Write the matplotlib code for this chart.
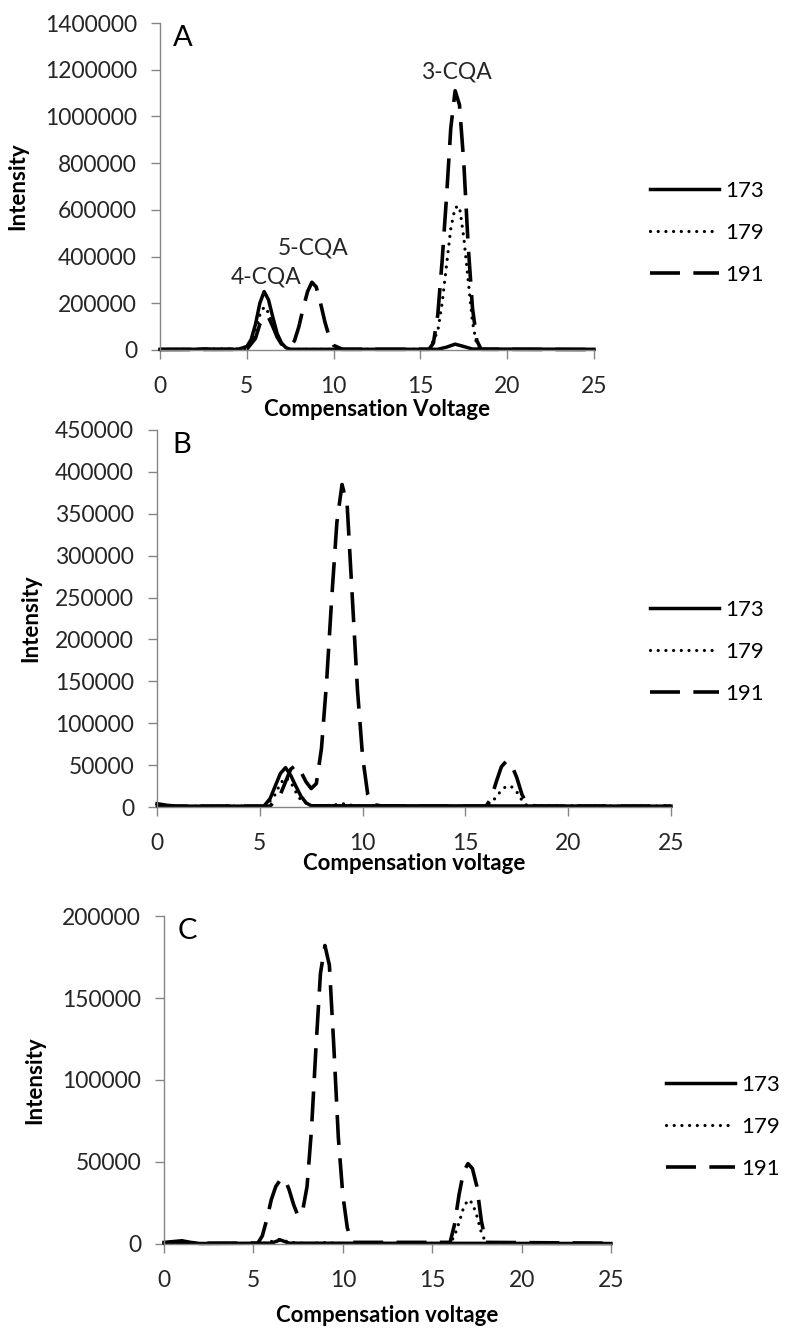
import matplotlib
matplotlib.use("Agg")
import matplotlib.pyplot as plt

plt.rcParams['font.family'] = ['Lato', 'DejaVu Sans']

W, H = 785, 1331

# ---- panel A data (Compensation Voltage vs Intensity) ----
a173_x = [0, 2, 2.5, 3, 4.5, 5, 5.25, 5.5, 5.75, 6, 6.25, 6.5, 6.75, 7, 7.25, 7.5, 16, 16.5, 17, 17.5, 18, 25]
a173_y = [3000, 3000, 5000, 3000, 3000, 15000, 45000, 110000, 200000, 250000, 215000, 140000, 70000, 30000,
          10000, 3000, 3000, 12000, 25000, 15000, 4000, 3000]

a179_x = [0, 5, 5.5, 5.75, 6, 6.25, 6.5, 7, 7.5, 15.5, 16, 16.25, 16.5, 16.75, 17, 17.25, 17.5, 17.75,
          18, 18.25, 18.5, 25]
a179_y = [2000, 5000, 70000, 150000, 185000, 160000, 100000, 25000, 3000, 3000, 80000, 200000, 360000,
          520000, 610000, 615000, 480000, 300000, 120000, 20000, 3000, 2000]

a191_x = [0, 5, 5.5, 5.75, 6, 6.25, 6.5, 6.75, 7, 7.5, 7.75, 8, 8.25, 8.5, 8.75, 9, 9.25, 9.5, 9.75, 10,
          10.5, 15.5, 15.75, 16, 16.25, 16.5, 16.75, 17, 17.25, 17.5, 17.75, 18, 18.25, 18.5, 25]
a191_y = [2000, 3000, 50000, 110000, 145000, 140000, 100000, 55000, 25000, 15000, 40000, 100000, 180000,
          250000, 290000, 270000, 200000, 120000, 55000, 20000, 3000, 3000, 30000, 150000, 380000, 650000,
          950000, 1110000, 1050000, 800000, 450000, 180000, 40000, 3000, 2000]

# ---- panel B data ----
b173_x = [0, 0.5, 1, 5.2, 5.5, 5.75, 6, 6.25, 6.5, 6.75, 7, 7.25, 7.5, 25]
b173_y = [4000, 2000, 1000, 1000, 10000, 25000, 40000, 47000, 38000, 25000, 13000, 5000, 1500, 1000]

b179_x = [0, 5.3, 5.75, 6, 6.25, 6.5, 6.75, 7, 7.5, 8.5, 9, 9.5, 10, 16, 16.25, 16.5, 16.75, 17, 17.25,
          17.5, 17.75, 18, 25]
b179_y = [1000, 1000, 15000, 28000, 35000, 30000, 18000, 8000, 1500, 2000, 4000, 2000, 1000, 1000, 5000,
          12000, 20000, 25000, 24000, 18000, 8000, 1500, 1000]

b191_x = [0, 5.5, 6, 6.25, 6.5, 6.75, 7, 7.25, 7.5, 7.75, 8, 8.25, 8.5, 8.75, 9, 9.25, 9.5, 9.75, 10,
          10.25, 10.5, 11, 16, 16.25, 16.5, 16.75, 17, 17.25, 17.5, 17.75, 18, 18.5, 25]
b191_y = [1000, 1000, 15000, 30000, 45000, 50000, 42000, 30000, 22000, 28000, 70000, 150000, 250000,
          340000, 385000, 360000, 250000, 140000, 60000, 15000, 3000, 1000, 1000, 10000, 30000, 48000,
          55000, 50000, 35000, 15000, 3000, 1000, 1000]

# ---- panel C data ----
c173_x = [0, 0.5, 1, 1.5, 2, 6, 6.5, 7, 25]
c173_y = [1000, 1500, 2000, 1000, 300, 500, 2500, 500, 300]

c179_x = [0, 5.5, 6, 6.5, 7, 8, 9, 10, 16, 16.25, 16.5, 16.75, 17, 17.25, 17.5, 17.75, 18, 18.5, 25]
c179_y = [300, 300, 1500, 3000, 1000, 300, 800, 300, 300, 5000, 13000, 22000, 27000, 25000, 17000, 7000,
          800, 300, 300]

c191_x = [0, 5.25, 5.5, 5.75, 6, 6.25, 6.5, 6.75, 7, 7.25, 7.5, 7.75, 8, 8.25, 8.5, 8.75, 9, 9.25, 9.5,
          9.75, 10, 10.25, 10.5, 16, 16.25, 16.5, 16.75, 17, 17.25, 17.5, 17.75, 18, 25]
c191_y = [500, 500, 5000, 15000, 27000, 35000, 39000, 40000, 33000, 24000, 17000, 20000, 35000, 70000,
          120000, 165000, 182000, 170000, 120000, 65000, 30000, 10000, 1000, 1000, 12000, 30000, 44000,
          49000, 46000, 35000, 14000, 1000, 500]

series_names = ['173', '179', '191']
x_ticks = [0, 5, 10, 15, 20, 25]

# styles for the three ions
styles = {
    '173': dict(linestyle='-', lw=2.5),
    '179': dict(linestyle=(0, (0.01, 2.4)), dash_capstyle='round', lw=2.3),
    '191': dict(linestyle=(0, (8.3, 3.7)), dash_capstyle='butt', lw=2.6),
}

TICK_COLOR = '#262626'
AXIS_COLOR = '#868686'


def px_box(left, top, right, bottom):
    return [left / W, 1 - bottom / H, (right - left) / W, (bottom - top) / H]


def draw_panel(fig, box, data, ymax, ystep, letter, xlabel, legend_left, legend_mid):
    ax = fig.add_axes(px_box(*box))
    for name, (xs, ys) in zip(series_names, data):
        ax.plot(xs, ys, color='black', label=name, clip_on=False, **styles[name])
    ax.set_xlim(0, 25)
    ax.set_ylim(0, ymax)
    ax.set_xticks(x_ticks)
    ax.set_yticks(list(range(0, ymax + 1, ystep)))
    ax.set_yticklabels([str(v) for v in range(0, ymax + 1, ystep)])
    for s in ['top', 'right']:
        ax.spines[s].set_visible(False)
    for s in ['left', 'bottom']:
        ax.spines[s].set_color(AXIS_COLOR)
        ax.spines[s].set_linewidth(1.0)
    ax.tick_params(axis='both', direction='out', length=6.5, width=1.0, color=AXIS_COLOR,
                   labelsize=16.5, labelcolor=TICK_COLOR)
    ax.tick_params(axis='x', pad=12)
    ax.tick_params(axis='y', pad=10)
    ax.text(0.03, 0.995, letter, transform=ax.transAxes, fontsize=21, va='top', ha='left')

    left, top, right, bottom = box
    fig.text((left + right) / 2 / W, 1 - xlabel[1] / H, xlabel[0], fontsize=16, fontweight='bold',
             ha='center', va='center', color='black')
    fig.text(xlabel[2] / W, 1 - (top + bottom) / 2 / H, 'Intensity', fontsize=16, fontweight='bold',
             rotation=90, ha='center', va='center', color='black')

    ax.legend(loc='center left', bbox_to_anchor=(legend_left / W, 1 - legend_mid / H),
              bbox_transform=fig.transFigure, frameon=False, fontsize=16, handlelength=3.1,
              handletextpad=0.3, labelspacing=1.0, borderpad=0, borderaxespad=0)
    return ax


fig = plt.figure(figsize=(W / 100, H / 100), dpi=100)

axA = draw_panel(fig, (160, 23, 594, 350),
                 [(a173_x, a173_y), (a179_x, a179_y), (a191_x, a191_y)],
                 1400000, 200000, 'A', ('Compensation Voltage', 409, 18), 650, 233)
axA.text(6.1, 312000, '4-CQA', fontsize=16.5, ha='center', va='center', color=TICK_COLOR)
axA.text(8.8, 437000, '5-CQA', fontsize=16.5, ha='center', va='center', color=TICK_COLOR)
axA.text(17.05, 1190000, '3-CQA', fontsize=16.5, ha='center', va='center', color=TICK_COLOR)

draw_panel(fig, (157, 430, 671, 807),
           [(b173_x, b173_y), (b179_x, b179_y), (b191_x, b191_y)],
           450000, 50000, 'B', ('Compensation voltage', 863, 31), 650, 652)

draw_panel(fig, (164, 916, 611, 1244),
           [(c173_x, c173_y), (c179_x, c179_y), (c191_x, c191_y)],
           200000, 50000, 'C', ('Compensation voltage', 1315, 35), 666, 1127)

fig.savefig('out.png', dpi=100)
